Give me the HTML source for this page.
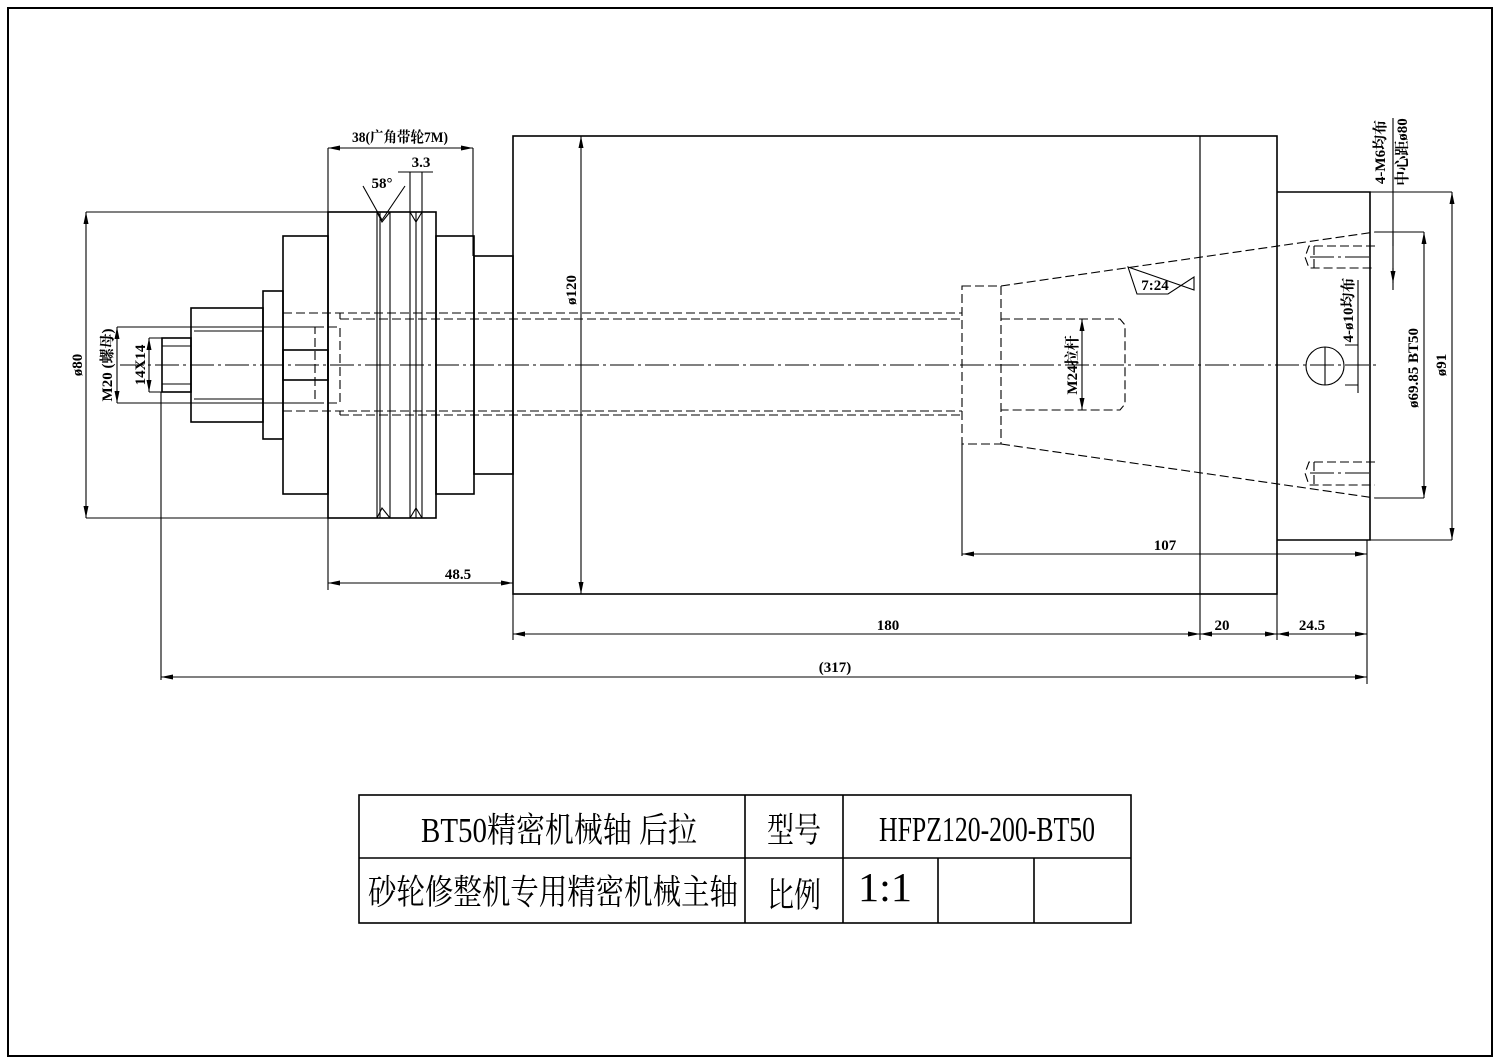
<!DOCTYPE html>
<html><head><meta charset="utf-8"><style>html,body{margin:0;padding:0;background:#fff}svg{display:block}</style></head>
<body>
<svg width="1500" height="1062" viewBox="0 0 1500 1062" xmlns="http://www.w3.org/2000/svg" font-family="Liberation Serif, Noto Serif CJK SC, serif">
<defs>
<marker id="a" viewBox="0 0 12 6" refX="12" refY="3" markerWidth="12" markerHeight="6" orient="auto-start-reverse" markerUnits="userSpaceOnUse"><path d="M0,0.5L12,3L0,5.5z" fill="#000"/></marker>
</defs>
<rect x="8" y="8" width="1484" height="1048" fill="none" stroke="#000" stroke-width="2"/>
<g fill="none" stroke="#000" stroke-width="1.6">
<rect x="513" y="136" width="764" height="458"/>
<line x1="1200" y1="136" x2="1200" y2="594" stroke-width="1.2"/>
<path d="M1277 192H1370V540H1277"/>
<rect x="328" y="212" width="108" height="306"/>
<rect x="436" y="236" width="38" height="258"/>
<rect x="474" y="256" width="39" height="218"/>
<rect x="283" y="236" width="45" height="258"/>
<rect x="263" y="291" width="20" height="148"/>
<rect x="191" y="308" width="72" height="114"/>
<rect x="162" y="338" width="29" height="54"/>
<rect x="283" y="350" width="45" height="30"/>
</g>
<g fill="none" stroke="#000" stroke-width="1.1">
<path d="M377 212V518M380 212V518M390 212V518M410 212V518M416 212V518M422 212V518"/>
<path d="M377 212L382 222L390 212M410 212L416 222L422 212M377 518L382 508L390 518M410 518L416 508L422 518"/>
<path d="M194 331H263M194 399H263M162 346H191M162 384H191"/>
<g stroke-dasharray="9,4">
<path d="M283 313H962M340 319H962M283 411H962M340 415H962"/>
<rect x="315" y="327" width="25" height="76"/>
<path d="M340 313V319M340 411V415"/>
<path d="M962 286H1001V444H962ZM1001 286L1375 232M1001 444L1375 498"/>
<path d="M1001 319H1120L1125 325V404L1120 410H1001"/>
<path d="M1375 246H1309L1305 257L1309 268H1375M1314 246V268"/>
<path d="M1375 462H1309L1305 473L1309 485H1375M1314 462V485"/>
</g>
<path d="M120 365H1380M1310 257H1370M1310 473H1370" stroke-dasharray="24,4,3,4" stroke-width="0.9"/>
<circle cx="1325" cy="366" r="19"/>
<path d="M1325 347V385"/>
<path d="M86 212H328M86 518H328M117 327H315M117 403H315M149 338H162M149 392H162"/>
<path d="M161 392V680M328 148V590M473 148V256M513 594V640M1200 594V640M1277 594V640M1367 540V684M962 444V556"/>
<path d="M1375 232H1424M1375 498H1424M1370 192H1452M1370 540H1452M1393 118V290M1358 280V393M1345 345H1358M1345 385H1358"/>
<path d="M410 172V212M422 172V212"/>
<path d="M86 212V518" marker-start="url(#a)" marker-end="url(#a)"/>
<path d="M117 327V403" marker-start="url(#a)" marker-end="url(#a)"/>
<path d="M149 338V392" marker-start="url(#a)" marker-end="url(#a)"/>
<path d="M328 148H473" marker-start="url(#a)" marker-end="url(#a)"/>
<path d="M398 172H433"/>
<path d="M328 583H513" marker-start="url(#a)" marker-end="url(#a)"/>
<path d="M581 136V594" marker-start="url(#a)" marker-end="url(#a)"/>
<path d="M513 634H1367"/>
<path d="M513 634H1200" marker-start="url(#a)" marker-end="url(#a)"/>
<path d="M1200 634H1277" marker-start="url(#a)" marker-end="url(#a)"/>
<path d="M1277 634H1367" marker-start="url(#a)" marker-end="url(#a)"/>
<path d="M161 677H1367" marker-start="url(#a)" marker-end="url(#a)"/>
<path d="M962 554H1367" marker-start="url(#a)" marker-end="url(#a)"/>
<path d="M1082 319V410" marker-start="url(#a)" marker-end="url(#a)"/>
<path d="M1424 232V498" marker-start="url(#a)" marker-end="url(#a)"/>
<path d="M1452 192V540" marker-start="url(#a)" marker-end="url(#a)"/>
<path d="M1393 246V233M1393 268V283" marker-end="url(#a)"/>
<path d="M363 186L382 220L405 186"/>
<path d="M1128 267L1137 294H1168L1194 277V290Z"/>
</g>
<g font-size="15" fill="#000" font-weight="bold">
<text x="400" y="142" text-anchor="middle" textLength="96" lengthAdjust="spacingAndGlyphs">38(广角带轮7M)</text>
<text x="421" y="167" text-anchor="middle">3.3</text>
<text x="382" y="188" text-anchor="middle">58°</text>
<text x="458" y="579" text-anchor="middle">48.5</text>
<text x="888" y="630" text-anchor="middle">180</text>
<text x="1222" y="630" text-anchor="middle">20</text>
<text x="1312" y="630" text-anchor="middle">24.5</text>
<text x="835" y="672" text-anchor="middle">(317)</text>
<text x="1165" y="550" text-anchor="middle">107</text>
<text x="1155" y="290" text-anchor="middle">7:24</text>
<text transform="translate(82,365) rotate(-90)" text-anchor="middle">ø80</text>
<text transform="translate(112,365) rotate(-90)" text-anchor="middle">M20 (螺母)</text>
<text transform="translate(145,365) rotate(-90)" text-anchor="middle">14X14</text>
<text transform="translate(576,290) rotate(-90)" text-anchor="middle">ø120</text>
<text transform="translate(1077,365) rotate(-90)" text-anchor="middle">M24拉杆</text>
<text transform="translate(1353,310) rotate(-90)" text-anchor="middle">4-ø10均布</text>
<text transform="translate(1418,368) rotate(-90)" text-anchor="middle">ø69.85 BT50</text>
<text transform="translate(1446,365) rotate(-90)" text-anchor="middle">ø91</text>
<text transform="translate(1385,152) rotate(-90)" text-anchor="middle">4-M6均布</text>
<text transform="translate(1407,152) rotate(-90)" text-anchor="middle">中心距ø80</text>
</g>
<g fill="none" stroke="#000" stroke-width="1.6">
<rect x="359" y="795" width="772" height="128"/>
<path d="M359 858H1131M745 795V923M843 795V923M938 858V923M1034 858V923"/>
</g>
<g font-size="30" fill="#000">
<text transform="translate(0,842) scale(1,1.15)" x="421" y="0" textLength="276" lengthAdjust="spacingAndGlyphs">BT50精密机械轴 后拉</text>
<text transform="translate(0,842) scale(1,1.15)" x="767" y="0" textLength="54" lengthAdjust="spacingAndGlyphs">型号</text>
<text transform="translate(0,841) scale(1,1.15)" x="879" y="0" textLength="216" lengthAdjust="spacingAndGlyphs">HFPZ120-200-BT50</text>
<text transform="translate(0,904) scale(1,1.15)" x="368" y="0" textLength="370" lengthAdjust="spacingAndGlyphs">砂轮修整机专用精密机械主轴</text>
<text transform="translate(0,907) scale(1,1.15)" x="767" y="0" textLength="54" lengthAdjust="spacingAndGlyphs">比例</text>
<text transform="translate(0,901) scale(1,1.3)" x="858" y="0" font-size="32" textLength="54" lengthAdjust="spacingAndGlyphs">1:1</text>
</g>
</svg>
</body></html>
